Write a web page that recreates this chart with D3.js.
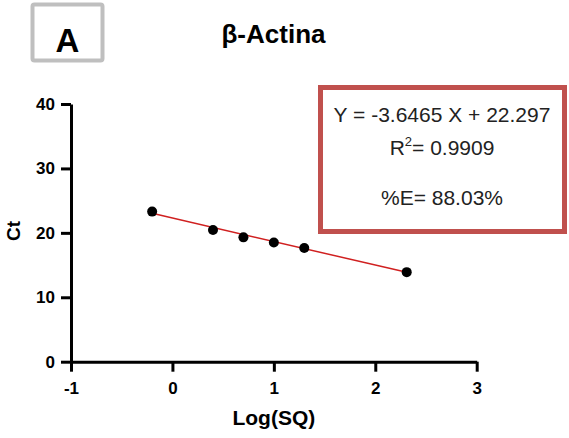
<!DOCTYPE html>
<html>
<head>
<meta charset="utf-8">
<script src="https://cdn.jsdelivr.net/npm/d3@7"></script>
<style>
  html, body { margin: 0; padding: 0; background: #fff; }
  svg { display: block; font-family: Arial, "Liberation Sans", sans-serif; }
</style>
</head>
<body>
<svg id="chart" width="569" height="438"></svg>
<script>
// Standard curve for β-Actina: log of starting quantity vs. threshold cycle
const logSQ = [-0.2, 0.4, 0.7, 1.0, 1.3, 2.31];
const ct = [23.3, 20.45, 19.3, 18.5, 17.65, 13.9];
const xTicks = [-1, 0, 1, 2, 3];
const yTicks = [0, 10, 20, 30, 40];
const slope = -3.6465;
const intercept = 22.297;
const rSquared = 0.9909;
const efficiency = 88.03;

const svg = d3.select("#chart");

const x = d3.scaleLinear().domain([-1, 3]).range([71, 476.7]);
const y = d3.scaleLinear().domain([0, 40]).range([361.7, 104]);

// Panel letter
svg.append("rect")
  .attr("x", 32.5).attr("y", 4.5).attr("width", 70).attr("height", 56)
  .attr("rx", 2)
  .attr("fill", "#fff").attr("stroke", "#bfbfbf").attr("stroke-width", 4);
svg.append("text")
  .attr("x", 67.5).attr("y", 52)
  .attr("text-anchor", "middle")
  .attr("font-size", 33).attr("font-weight", "bold")
  .text("A");

// Title
svg.append("text")
  .attr("x", 273.5).attr("y", 43)
  .attr("text-anchor", "middle")
  .attr("font-size", 26).attr("font-weight", "bold")
  .text("β-Actina");

// Axes
const fmt = d => String(d);
const xAxis = d3.axisBottom(x).tickValues(xTicks).tickSize(10).tickSizeOuter(0).tickPadding(10)
  .tickFormat(fmt);
const yAxis = d3.axisLeft(y).tickValues(yTicks).tickSize(10).tickSizeOuter(0).tickPadding(6)
  .tickFormat(fmt);

const gx = svg.append("g").attr("transform", `translate(0,${y(0)})`).call(xAxis);
const gy = svg.append("g").attr("transform", `translate(${x(-1)},0)`).call(yAxis);

[gx, gy].forEach(g => {
  g.select(".domain").attr("stroke", "#000").attr("stroke-width", 3);
  g.selectAll(".tick line").attr("stroke", "#000").attr("stroke-width", 3);
  g.selectAll(".tick text")
    .attr("fill", "#000")
    .attr("font-size", 17).attr("font-weight", "bold")
    .attr("font-family", "Arial, 'Liberation Sans', sans-serif");
});

// Axis titles
svg.append("text")
  .attr("x", x(1)).attr("y", 425)
  .attr("text-anchor", "middle")
  .attr("font-size", 21).attr("font-weight", "bold")
  .text("Log(SQ)");
svg.append("text")
  .attr("transform", `translate(20,${y(20) - 2}) rotate(-90)`)
  .attr("text-anchor", "middle")
  .attr("font-size", 19).attr("font-weight", "bold")
  .text("Ct");

// Regression line across the measured range
const xMin = d3.min(logSQ), xMax = d3.max(logSQ);
svg.append("line")
  .attr("x1", x(xMin)).attr("y1", y(slope * xMin + intercept))
  .attr("x2", x(xMax)).attr("y2", y(slope * xMax + intercept))
  .attr("stroke", "#d02020").attr("stroke-width", 1.5);

// Data points
svg.append("g").selectAll("circle")
  .data(logSQ.map((v, i) => [v, ct[i]]))
  .join("circle")
  .attr("cx", d => x(d[0])).attr("cy", d => y(d[1]))
  .attr("r", 5).attr("fill", "#000");

// Fit summary box
svg.append("rect")
  .attr("x", 320.5).attr("y", 87.5).attr("width", 244).attr("height", 144)
  .attr("fill", "#fff").attr("stroke", "#c0504d").attr("stroke-width", 5);

const cx = 442;
svg.append("text")
  .attr("x", cx).attr("y", 122)
  .attr("text-anchor", "middle").attr("font-size", 21)
  .attr("fill", "#222")
  .text(`Y = ${slope} X + ${intercept}`);

const r2 = svg.append("text")
  .attr("x", cx).attr("y", 155)
  .attr("text-anchor", "middle").attr("font-size", 21)
  .attr("fill", "#222");
r2.append("tspan").text("R");
r2.append("tspan").attr("font-size", 13).attr("dy", -9).text("2");
r2.append("tspan").attr("dy", 9).text(`= ${rSquared}`);

svg.append("text")
  .attr("x", cx).attr("y", 205)
  .attr("text-anchor", "middle").attr("font-size", 21)
  .attr("fill", "#222")
  .text(`%E= ${efficiency}%`);
</script>
</body>
</html>
